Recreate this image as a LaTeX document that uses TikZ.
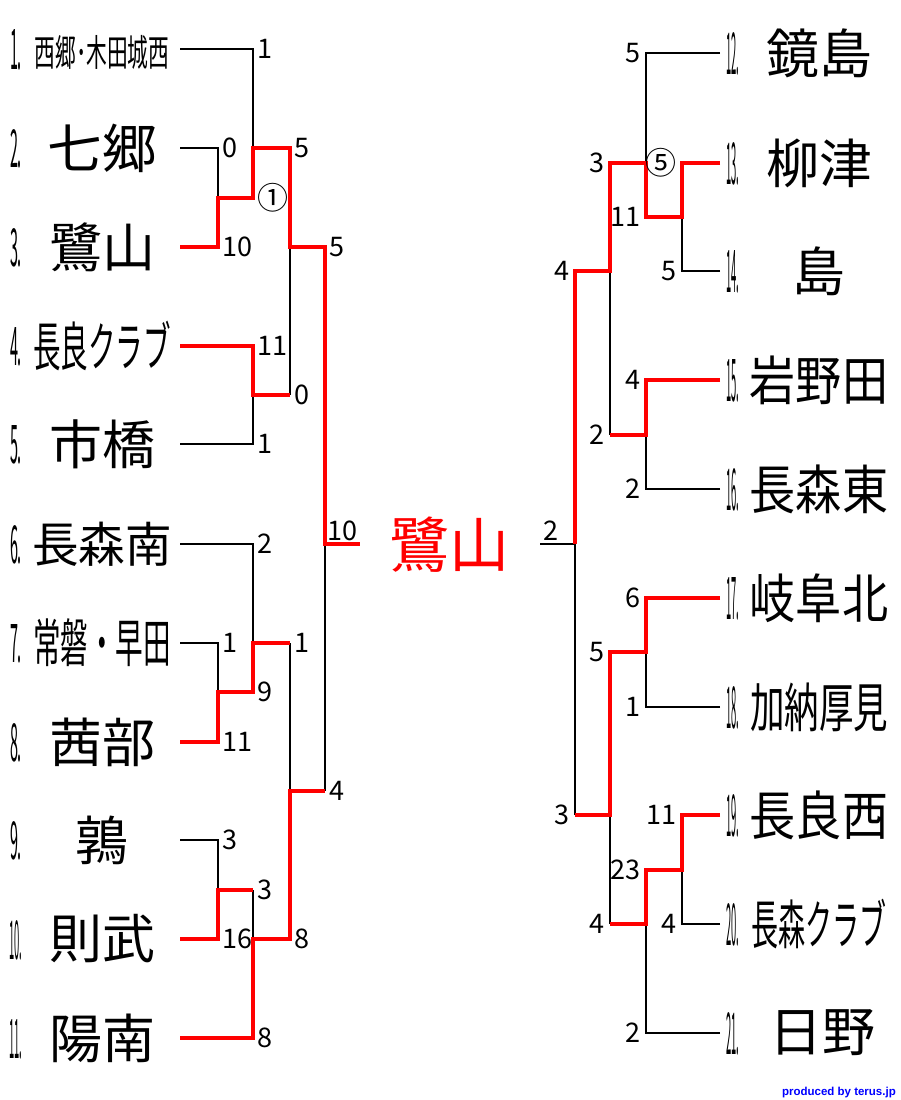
\documentclass[tikz,border=0pt]{standalone}
\usepackage{fontspec}
\usepackage{graphicx}
\newfontfamily\jp{Noto Sans CJK JP}
\newfontfamily\credfont{Liberation Sans}
\usetikzlibrary{calc}
\newcommand{\tnm}[3]{\scalebox{#2}[1]{\fontsize{#1}{#1}\selectfont\jp #3}}
\newcommand{\nlab}[3]{\resizebox{#1}{#2}{\fontsize{40}{40}\selectfont\jp #3}}
\begin{document}
\begin{tikzpicture}[x=1pt,y=-1pt,
  blk/.style={line width=1.3pt, draw=black},
  win/.style={line width=3.2pt, draw=red},
  sc/.style={inner sep=0pt, font=\fontsize{27}{27}\selectfont\jp},
  scL/.style={sc, anchor=west, xshift=4pt},
  scR/.style={sc, anchor=east, xshift=-5pt},
  circ/.style={font=\fontsize{31}{31}\selectfont\jp},
  nm/.style={inner sep=0pt, anchor=center},
  lab/.style={inner sep=0pt, anchor=center}]
\useasboundingbox (0,0) rectangle (900,1100);

% ---------- left teams ----------
\node[lab] (k1) at (16,50) {\nlab{12pt}{40pt}{1.}};
\node[lab] (k2) at (16,149) {\nlab{12pt}{38pt}{2.}};
\node[lab] (k3) at (16,248) {\nlab{12pt}{38pt}{3.}};
\node[lab] (k4) at (16,347) {\nlab{12pt}{38pt}{4.}};
\node[lab] (k5) at (16,445) {\nlab{12pt}{38pt}{5.}};
\node[lab] (k6) at (16,545) {\nlab{12pt}{38pt}{6.}};
\node[lab] (k7) at (16,644) {\nlab{12pt}{38pt}{7.}};
\node[lab] (k8) at (16,743) {\nlab{12pt}{38pt}{8.}};
\node[lab] (k9) at (16,841) {\nlab{12pt}{38pt}{9.}};
\node[lab] (k10) at (16,940) {\nlab{13pt}{39pt}{10.}};
\node[lab] (k11) at (16,1039) {\nlab{13pt}{39pt}{11.}};

\node[nm] (n1) at (102,52) {\tnm{37}{0.56}{西郷･木田城西}};
\node[nm] (n2) at (102,148) {\tnm{53}{1.03}{七郷}};
\node[nm] (n3) at (102,247) {\tnm{53}{1.0}{鷺山}};
\node[nm] (n4) at (102,346) {\tnm{53}{0.52}{長良クラブ}};
\node[nm] (n5) at (102,444) {\tnm{53}{1.0}{市橋}};
\node[nm] (n6) at (102,544) {\tnm{48}{0.97}{長森南}};
\node[nm] (n7) at (102,643) {\tnm{52}{0.53}{常磐・早田}};
\node[nm] (n8) at (102,742) {\tnm{53}{1.0}{茜部}};
\node[nm] (n9) at (102,840) {\tnm{53}{1.0}{鶉}};
\node[nm] (n10) at (102,939) {\tnm{53}{1.0}{則武}};
\node[nm] (n11) at (102,1038) {\tnm{53}{1.0}{陽南}};

% ---------- right teams ----------
\node[lab] (k12) at (733,54) {\nlab{13pt}{42pt}{12.}};
\node[lab] (k13) at (733,164) {\nlab{13pt}{42pt}{13.}};
\node[lab] (k14) at (733,272) {\nlab{13pt}{42pt}{14.}};
\node[lab] (k15) at (733,381) {\nlab{13pt}{42pt}{15.}};
\node[lab] (k16) at (733,490) {\nlab{13pt}{42pt}{16.}};
\node[lab] (k17) at (733,599) {\nlab{13pt}{42pt}{17.}};
\node[lab] (k18) at (733,708) {\nlab{13pt}{42pt}{18.}};
\node[lab] (k19) at (733,816) {\nlab{13pt}{42pt}{19.}};
\node[lab] (k20) at (733,925) {\nlab{13pt}{42pt}{20.}};
\node[lab] (k21) at (733,1034) {\nlab{13pt}{42pt}{21.}};

\node[nm] (n12) at (819,53) {\tnm{53}{1.0}{鏡島}};
\node[nm] (n13) at (819,163) {\tnm{53}{1.0}{柳津}};
\node[nm] (n14) at (819,271) {\tnm{53}{1.0}{島}};
\node[nm] (n15) at (819,380) {\tnm{53}{0.87}{岩野田}};
\node[nm] (n16) at (819,489) {\tnm{53}{0.87}{長森東}};
\node[nm] (n17) at (819,598) {\tnm{53}{0.87}{岐阜北}};
\node[nm] (n18) at (819,707) {\tnm{53}{0.65}{加納厚見}};
\node[nm] (n19) at (819,815) {\tnm{53}{0.87}{長良西}};
\node[nm] (n20) at (819,924) {\tnm{53}{0.51}{長森クラブ}};
\node[nm] (n21) at (822,1033) {\tnm{53}{1.0}{日野}};

% ---------- coordinates ----------
\coordinate (s1) at (180,49);
\coordinate (s2) at (180,148);
\coordinate (s3) at (180,247);
\coordinate (s4) at (180,346);
\coordinate (s5) at (180,444);
\coordinate (s6) at (180,544);
\coordinate (s7) at (180,643);
\coordinate (s8) at (180,742);
\coordinate (s9) at (180,840);
\coordinate (s10) at (180,939);
\coordinate (s11) at (180,1038);
\coordinate (s12) at (720,53);
\coordinate (s13) at (720,163);
\coordinate (s14) at (720,271);
\coordinate (s15) at (720,380);
\coordinate (s16) at (720,489);
\coordinate (s17) at (720,598);
\coordinate (s18) at (720,707);
\coordinate (s19) at (720,815);
\coordinate (s20) at (720,924);
\coordinate (s21) at (720,1033);

\coordinate (jA) at (218,198);
\coordinate (jB) at (253,148);
\coordinate (jC) at (253,395);
\coordinate (jD) at (290,247);
\coordinate (jLF) at (325,544);
\coordinate (jE) at (218,692);
\coordinate (jF) at (253,643);
\coordinate (jG) at (218,890);
\coordinate (jH) at (253,939);
\coordinate (jI) at (290,791);
\coordinate (cL) at (360,544);
\coordinate (cR) at (540,544);
\coordinate (jJ) at (682,217);
\coordinate (jK) at (646,163);
\coordinate (jL) at (646,435);
\coordinate (jM) at (610,271);
\coordinate (jRF) at (575,544);
\coordinate (jN) at (646,652);
\coordinate (jO) at (682,870);
\coordinate (jP) at (646,924);
\coordinate (jQ) at (610,815);

% ---------- black lines ----------
\draw[blk] (s2) -| (jA);
\draw[blk] (s1) -| (jB);
\draw[blk] (s5) -| (jC);
\draw[blk] (jC -| jD) -- (jD);
\draw[blk] (jI -| jLF) -- (jLF);
\draw[blk] (s7) -| (jE);
\draw[blk] (s6) -| (jF);
\draw[blk] (jF -| jI) -- (jI);
\draw[blk] (s9) -| (jG);
\draw[blk] (jG -| jH) -- (jH);

\draw[blk] (s14) -| (jJ);
\draw[blk] (s12) -| (jK);
\draw[blk] (s16) -| (jL);
\draw[blk] (jL -| jM) -- (jM);
\draw[blk] (jQ -| jRF) -- (jRF);
\draw[blk] (jRF) -- (cR);
\draw[blk] (s18) -| (jN);
\draw[blk] (s20) -| (jO);
\draw[blk] (s21) -| (jP);
\draw[blk] (jP -| jQ) -- (jQ);

% ---------- red (winner) lines ----------
\draw[win] (s3) -| (jA) -| (jB) -| (jD) -| (jLF) -- (cL);
\draw[win] (s4) -| (jC) -- (jC -| jD);
\draw[win] (s8) -| (jE) -| (jF) -- (jF -| jI);
\draw[win] (s10) -| (jG) -- (jG -| jH);
\draw[win] (s11) -| (jH) -| (jI) -- (jI -| jLF);

\draw[win] (s13) -| (jJ) -| (jK) -| (jM) -| (jRF);
\draw[win] (s15) -| (jL) -- (jL -| jM);
\draw[win] (s17) -| (jN) -| (jQ) -- (jQ -| jRF);
\draw[win] (s19) -| (jO) -| (jP) -- (jP -| jQ);

% ---------- scores left ----------
\node[scL] (a1) at (jA |- s2) {0};
\node[scL] (a2) at (jA |- s3) {10};
\node[scL] (b1) at (jB |- s1) {1};
\node[scL, circ] (b2) at (jB |- jA) {①};
\node[scL] (c1) at (jC |- s4) {11};
\node[scL] (c2) at (jC |- s5) {1};
\node[scL] (d1) at (jD |- jB) {5};
\node[scL] (d2) at (jD |- jC) {0};
\node[scL] (lf1) at (jLF |- jD) {5};
\node[scL] (lf2) at (jLF |- jI) {4};
\node[scL] (e1) at (jE |- s7) {1};
\node[scL] (e2) at (jE |- s8) {11};
\node[scL] (f1) at (jF |- s6) {2};
\node[scL] (f2) at (jF |- jE) {9};
\node[scL] (g1) at (jG |- s9) {3};
\node[scL] (g2) at (jG |- s10) {16};
\node[scL] (h1) at (jH |- jG) {3};
\node[scL] (h2) at (jH |- s11) {8};
\node[scL] (i1) at (jI |- jF) {1};
\node[scL] (i2) at (jI |- jH) {8};
\node[sc, anchor=south] (finL) at ($(jLF)!0.5!(cL)+(0,-3)$) {10};

% ---------- scores right ----------
\node[scR, circ] (j1) at (jJ |- s13) {⑤};
\node[scR] (j2) at (jJ |- s14) {5};
\node[scR] (kk1) at (jK |- s12) {5};
\node[scR] (kk2) at (jK |- jJ) {11};
\node[scR] (l1) at (jL |- s15) {4};
\node[scR] (l2) at (jL |- s16) {2};
\node[scR] (m1) at (jM |- jK) {3};
\node[scR] (m2) at (jM |- jL) {2};
\node[scR] (rf1) at (jRF |- jM) {4};
\node[scR] (rf2) at (jRF |- jQ) {3};
\node[scR] (nn1) at (jN |- s17) {6};
\node[scR] (nn2) at (jN |- s18) {1};
\node[scR] (o1) at (jO |- s19) {11};
\node[scR] (o2) at (jO |- s20) {4};
\node[scR] (p1) at (jP |- jO) {23};
\node[scR] (p2) at (jP |- s21) {2};
\node[scR] (q1) at (jQ |- jN) {5};
\node[scR] (q2) at (jQ |- jP) {4};
\node[sc, anchor=south] (finR) at ($(cR)!0.3!(jRF)+(0,-3)$) {2};

% ---------- champion and credit ----------
\node[inner sep=0pt, text=red, font=\fontsize{60}{60}\selectfont\jp] (champ) at (449,545) {鷺山};
\node[inner sep=0pt, anchor=east, text=blue, font=\credfont\bfseries\fontsize{11.5}{11.5}\selectfont] (cred) at (896,1093) {produced by terus.jp};
\end{tikzpicture}
\end{document}
